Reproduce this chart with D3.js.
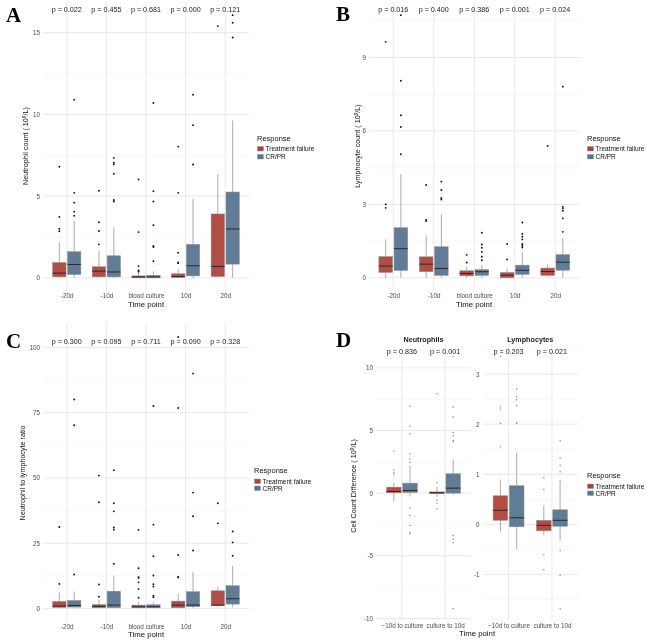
<!DOCTYPE html>
<html>
<head>
<meta charset="utf-8">
<script src="https://cdn.jsdelivr.net/npm/d3@7"></script>
<style>
body { margin: 0; background: #fff; }
svg { display: block; font-family: "Liberation Sans", Arial, sans-serif; will-change: transform; }
</style>
</head>
<body>
<svg id="fig" width="647" height="640"></svg>
<script>
var groups = ['Treatment failure', 'CR/PR'];
var timeCats = ['-20d', '-10d', 'blood culture', '10d', '20d'];
var diffCats = ['\u221210d to culture', 'culture to 10d'];

// box stats per category: [lower whisker, q1, median, q3, upper whisker]
var neutroFail = [[0, 0.06, 0.29, 0.94, 2.19], [0, 0.06, 0.41, 0.68, 1.67], [0, 0, 0.06, 0.12, 0.34], [0, 0.02, 0.08, 0.25, 0.52], [0, 0.08, 0.7, 3.91, 6.35]];
var neutroResp = [[0, 0.2, 0.82, 1.6, 3.5], [0, 0.06, 0.36, 1.35, 3.1], [0, 0, 0.06, 0.16, 0.4], [0, 0.12, 0.74, 2.05, 4.84], [0, 0.84, 2.99, 5.25, 9.63]];
var neutroFailOut = [[6.8, 3.73, 3.0, 2.85], [5.33, 3.4, 2.87, 2.05], [6.02, 2.8, 0.72, 0.45, 0.38], [8.03, 5.2, 1.54, 0.94, 0.9], [15.4]];
var neutroRespOut = [[10.9, 5.2, 4.6, 4.05, 3.8], [7.34, 7.05, 6.95, 6.37, 4.77, 4.67], [10.7, 5.3, 4.67, 3.22, 1.95, 1.89, 1.02], [11.2, 9.34, 6.93], [16.07, 15.6, 14.7]];
var neutroP = ['p = 0.022', 'p = 0.455', 'p = 0.681', 'p = 0.000', 'p = 0.121'];

var lymphoFail = [[0, 0.22, 0.48, 0.87, 1.57], [0, 0.25, 0.56, 0.86, 1.73], [0, 0.08, 0.18, 0.29, 0.45], [0, 0, 0.11, 0.22, 0.38], [0.05, 0.1, 0.26, 0.4, 0.55]];
var lymphoResp = [[0, 0.3, 1.19, 2.05, 4.23], [0, 0.1, 0.38, 1.27, 2.6], [0, 0.1, 0.25, 0.34, 0.52], [0, 0.14, 0.31, 0.52, 1.05], [0, 0.31, 0.64, 0.95, 1.62]];
var lymphoFailOut = [[9.64, 3.0, 2.86], [3.79, 2.37, 2.32], [0.94, 0.63], [1.38, 0.75], [5.39]];
var lymphoRespOut = [[10.73, 8.05, 6.64, 6.16, 5.05], [3.93, 3.59, 3.26, 3.2], [1.84, 1.36, 1.23, 1.06, 0.86, 0.72], [2.26, 1.79, 1.68, 1.57, 1.38, 1.31, 1.24], [7.81, 2.9, 2.84, 2.74, 2.43, 1.88]];
var lymphoP = ['p = 0.016', 'p = 0.400', 'p = 0.386', 'p = 0.001', 'p = 0.024'];

var nlrFail = [[0, 0.38, 0.9, 2.68, 6.1], [0, 0.25, 0.77, 1.53, 3.3], [0, 0.25, 0.64, 1.28, 2.55], [0, 0.25, 1.28, 2.8, 5.6], [0.5, 1.02, 1.28, 6.76, 8.4]];
var nlrResp = [[0, 0.5, 1.15, 3.06, 6.5], [0, 0.25, 1.28, 6.6, 12.6], [0, 0.25, 0.64, 1.4, 2.3], [0, 0.64, 1.28, 6.4, 13.9], [0.5, 1.66, 3.7, 8.7, 16.3]];
var nlrFailOut = [[31.2, 9.4], [50.9, 40.7, 9.2, 4.5], [30.1, 15.4, 12.0, 11.7, 10.0, 7.4, 4.1], [104, 76.8, 20.5, 12.1, 11.9], [40.3, 32.6]];
var nlrRespOut = [[80.1, 70.2, 13.0], [53.0, 40.3, 37.2, 31.0, 30.2, 17.1], [77.6, 32.1, 20.0, 12.6, 9.3, 8.4, 4.8, 4.3], [90.0, 44.4, 35.3, 22.2], [29.5, 25.3, 20.2]];
var nlrP = ['p = 0.300', 'p = 0.095', 'p = 0.711', 'p = 0.090', 'p = 0.328'];

var diffNeutroFail = [[-0.67, 0.03, 0.13, 0.48, 0.85], [-0.3, -0.05, 0.03, 0.1, 0.5]];
var diffNeutroResp = [[-0.27, 0.05, 0.21, 0.8, 2.2], [-0.13, 0, 0.4, 1.55, 2.67]];
var diffNeutroFailOut = [[3.36, 1.84, 1.65, 1.47], [7.92, 0.85, -0.55, -0.8, -1.25]];
var diffNeutroRespOut = [[6.93, 5.33, 4.75, 3.15, 2.72, 2.45, -1.2, -1.79, -2.59, -3.12, -3.25], [10.9, 6.88, 6.08, 4.85, 4.59, 4.21, 4.13, -3.39, -3.68, -3.95, -9.2]];
var diffNeutroP = ['p = 0.836', 'p = 0.001'];

var diffLymphoFail = [[-0.15, 0.08, 0.28, 0.57, 0.89], [-0.22, -0.13, -0.02, 0.08, 0.38]];
var diffLymphoResp = [[-0.5, -0.05, 0.13, 0.77, 1.43], [-0.33, -0.04, 0.08, 0.29, 0.8]];
var diffLymphoFailOut = [[3.35, 2.35, 2.3, 2.02, 1.55], [0.93, 0.7, -0.61, -0.91]];
var diffLymphoRespOut = [[2.71, 2.55, 2.49, 2.37, 2.03, 2.02], [1.67, 1.33, 1.18, 1.05, 0.87, 0.83, -0.53, -1.02, -1.68]];
var diffLymphoP = ['p = 0.203', 'p = 0.021'];

var neutroTicks = [0, 5, 10, 15];
var lymphoTicks = [0, 3, 6, 9];
var nlrTicks = [0, 25, 50, 75, 100];
var diffNeutroTicks = [-10, -5, 0, 5, 10];
var diffLymphoTicks = [-1, 0, 1, 2, 3];

var fillColor = d3.scaleOrdinal().domain(groups).range(['#ad4239', '#56748f']);
var svg = d3.select('#fig');

function drawPanel(o) {
	var g = svg.append('g');
	var all = [];
	o.fail.concat(o.resp, o.failOut, o.respOut).forEach(function(a){ all = all.concat(a); });
	var ext = d3.extent(all);
	var pad = (ext[1] - ext[0]) * 0.05;
	var y = d3.scaleLinear().domain([ext[0] - pad, ext[1] + pad]).range([o.bottom, o.top]);
	var x = d3.scalePoint().domain(o.cats).range([o.left, o.right]).padding(0.6);
	var step = x.step();
	var sub = d3.scaleBand().domain(groups).range([-0.375 * step, 0.375 * step]).paddingInner(0.1).paddingOuter(0.05);

	// minor breaks: midway between majors, extended while inside the limits
	var dom = y.domain(), t = o.ticks, half = (t[1] - t[0]) / 2;
	var minor = [];
	for (var v = t[0] - half; v <= dom[1]; v += 2 * half) {
		if (v >= dom[0]) minor.push(v);
	}

	g.selectAll('line.minor').data(minor).enter().append('line')
		.attr('x1', o.left).attr('x2', o.right)
		.attr('y1', function(d){ return y(d); }).attr('y2', function(d){ return y(d); })
		.style('stroke', '#f3f3f3').style('stroke-width', 0.7);
	g.selectAll('line.major').data(t).enter().append('line')
		.attr('x1', o.left).attr('x2', o.right)
		.attr('y1', function(d){ return y(d); }).attr('y2', function(d){ return y(d); })
		.style('stroke', '#e6e6e6').style('stroke-width', 0.9);
	g.selectAll('line.vert').data(o.cats).enter().append('line')
		.attr('x1', function(d){ return x(d); }).attr('x2', function(d){ return x(d); })
		.attr('y1', o.top).attr('y2', o.bottom)
		.style('stroke', '#e6e6e6').style('stroke-width', 0.9);

	var series = [
		{ key: groups[0], stats: o.fail, out: o.failOut },
		{ key: groups[1], stats: o.resp, out: o.respOut }
	];
	series.forEach(function(s){
		var rows = s.stats.map(function(st, i){ return { cat: o.cats[i], st: st, out: s.out[i] }; });
		var cx = function(d){ return x(d.cat) + sub(s.key) + sub.bandwidth() / 2; };
		var bg = g.append('g');
		bg.selectAll('line.wu').data(rows).enter().append('line')
			.attr('x1', cx).attr('x2', cx)
			.attr('y1', function(d){ return y(d.st[3]); }).attr('y2', function(d){ return y(d.st[4]); })
			.style('stroke', '#ababab').style('stroke-width', 1);
		bg.selectAll('line.wl').data(rows).enter().append('line')
			.attr('x1', cx).attr('x2', cx)
			.attr('y1', function(d){ return y(d.st[1]); }).attr('y2', function(d){ return y(d.st[0]); })
			.style('stroke', '#ababab').style('stroke-width', 1);
		bg.selectAll('rect').data(rows).enter().append('rect')
			.attr('x', function(d){ return x(d.cat) + sub(s.key); })
			.attr('width', sub.bandwidth())
			.attr('y', function(d){ return y(d.st[3]); })
			.attr('height', function(d){ return Math.max(1, y(d.st[1]) - y(d.st[3])); })
			.style('fill', fillColor(s.key)).style('fill-opacity', 0.94)
			.style('stroke', '#8f8f8f').style('stroke-width', 0.5);
		bg.selectAll('line.med').data(rows).enter().append('line')
			.attr('x1', function(d){ return x(d.cat) + sub(s.key); })
			.attr('x2', function(d){ return x(d.cat) + sub(s.key) + sub.bandwidth(); })
			.attr('y1', function(d){ return y(d.st[2]); }).attr('y2', function(d){ return y(d.st[2]); })
			.style('stroke', '#2a2a2a').style('stroke-width', 1);
		rows.forEach(function(r){
			bg.selectAll(null).data(r.out).enter().append('circle')
				.attr('cx', cx(r)).attr('cy', function(d){ return y(d); })
				.attr('r', o.dotR).style('fill', o.dotColor);
		});
	});

	var ya = g.append('g').attr('transform', 'translate(' + o.left + ',0)')
		.call(d3.axisLeft(y).tickValues(t).tickSize(0).tickPadding(3).tickFormat(function(d){ return String(d); }));
	ya.select('.domain').remove();
	ya.selectAll('text').style('font-size', '6.3px').style('fill', '#4d4d4d').style('font-family', 'Liberation Sans, Arial, sans-serif');

	var xa = g.append('g').attr('transform', 'translate(0,' + o.bottom + ')')
		.call(d3.axisBottom(x).tickSize(0).tickPadding(2.5));
	xa.select('.domain').remove();
	xa.selectAll('text').style('font-size', '6.3px').style('fill', '#4d4d4d').style('font-family', 'Liberation Sans, Arial, sans-serif');

	g.selectAll('text.p').data(o.pText).enter().append('text')
		.attr('x', function(d, i){ return x(o.cats[i]); })
		.attr('y', o.pY)
		.attr('text-anchor', 'middle')
		.style('font-size', '7.2px').style('fill', '#222')
		.text(function(d){ return d; });
	return { x: x, y: y };
}

function yTitle(tx, ty, label) {
	var t = svg.append('text')
		.attr('transform', 'translate(' + tx + ',' + ty + ') rotate(-90)')
		.attr('text-anchor', 'middle')
		.style('font-size', '7.2px').style('fill', '#111');
	t.append('tspan').text(label + ' ( 10');
	t.append('tspan').attr('dy', -2.5).style('font-size', '4.8px').text('9');
	t.append('tspan').attr('dy', 2.5).text('/L)');
	return t;
}

function xTitle(tx, ty) {
	svg.append('text').attr('x', tx).attr('y', ty).attr('text-anchor', 'middle')
		.style('font-size', '7.8px').style('fill', '#111').text('Time point');
}

function legend(lx, ly, gap) {
	var lg = svg.append('g').attr('transform', 'translate(' + lx + ',' + ly + ')');
	lg.append('text').attr('x', 0).attr('y', 0).style('font-size', '7.5px').style('fill', '#111').text('Response');
	var items = lg.selectAll('g.item').data(groups).enter().append('g')
		.attr('transform', function(d, i){ return 'translate(0,' + (6 + i * gap) + ')'; });
	items.append('rect').attr('x', 0.5).attr('y', 0).attr('width', 6).attr('height', 4.5)
		.style('fill', function(d){ return fillColor(d); }).style('stroke', '#8f8f8f').style('stroke-width', 0.4);
	items.append('text').attr('x', 8.5).attr('y', 4.6).style('font-size', '6.5px').style('fill', '#111')
		.text(function(d){ return d; });
}

function panelLetter(lx, ly, s) {
	svg.append('text').attr('x', lx).attr('y', ly)
		.style('font-family', 'Liberation Serif, Times New Roman, serif').style('font-weight', 'bold')
		.style('font-size', '21px').style('fill', '#000').text(s);
}

// A
drawPanel({ cats: timeCats, fail: neutroFail, resp: neutroResp, failOut: neutroFailOut, respOut: neutroRespOut,
	pText: neutroP, ticks: neutroTicks, left: 43, right: 249, top: 2, bottom: 291, pY: 12, dotR: 0.95, dotColor: '#111' });
yTitle(28, 146, 'Neutrophil count');
xTitle(146, 307);
legend(257, 140.5, 8);
panelLetter(6, 22, 'A');

// B
drawPanel({ cats: timeCats, fail: lymphoFail, resp: lymphoResp, failOut: lymphoFailOut, respOut: lymphoRespOut,
	pText: lymphoP, ticks: lymphoTicks, left: 369, right: 579.5, top: 2, bottom: 291, pY: 12, dotR: 0.95, dotColor: '#111' });
yTitle(360, 146, 'Lymphocyte count');
xTitle(474, 307);
legend(587, 140.5, 8);
panelLetter(336, 21, 'B');

// C
drawPanel({ cats: timeCats, fail: nlrFail, resp: nlrResp, failOut: nlrFailOut, respOut: nlrRespOut,
	pText: nlrP, ticks: nlrTicks, left: 43, right: 249, top: 323.5, bottom: 622, pY: 343.5, dotR: 0.95, dotColor: '#111' });
svg.append('text')
	.attr('transform', 'translate(25,473) rotate(-90)')
	.attr('text-anchor', 'middle')
	.style('font-size', '7.2px').style('fill', '#111')
	.text('Neutrophil to lymphocyte ratio');
xTitle(146, 637);
legend(254, 473, 7);
panelLetter(6, 348, 'C');

// D
drawPanel({ cats: diffCats, fail: diffNeutroFail, resp: diffNeutroResp, failOut: diffNeutroFailOut, respOut: diffNeutroRespOut,
	pText: diffNeutroP, ticks: diffNeutroTicks, left: 376, right: 471, top: 344, bottom: 621, pY: 354, dotR: 0.75, dotColor: '#8a8a8a' });
drawPanel({ cats: diffCats, fail: diffLymphoFail, resp: diffLymphoResp, failOut: diffLymphoFailOut, respOut: diffLymphoRespOut,
	pText: diffLymphoP, ticks: diffLymphoTicks, left: 482.5, right: 578, top: 344, bottom: 621, pY: 354, dotR: 0.75, dotColor: '#8a8a8a' });
svg.selectAll('text.strip').data(['Neutrophils', 'Lymphocytes']).enter().append('text')
	.attr('x', function(d, i){ return i === 0 ? (376 + 471) / 2 : (482.5 + 578) / 2; })
	.attr('y', 341.5)
	.attr('text-anchor', 'middle')
	.style('font-size', '7.2px').style('font-weight', 'bold').style('fill', '#222')
	.text(function(d){ return d; });
yTitle(356, 486, 'Cell Count Difference');
xTitle(477, 636);
legend(587, 478, 7);
panelLetter(336, 347, 'D');
</script>
</body>
</html>
